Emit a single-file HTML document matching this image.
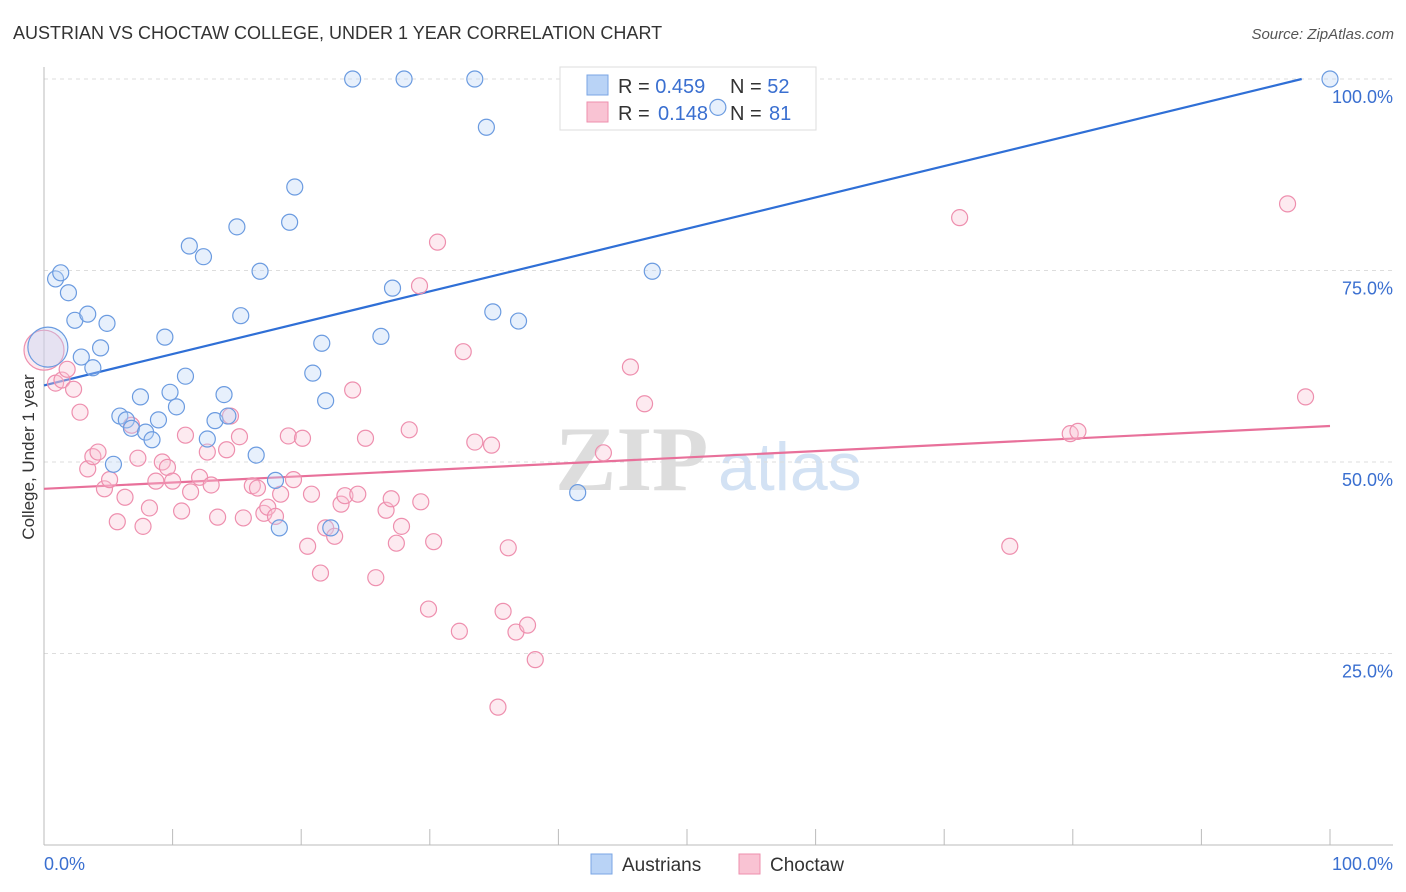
<!DOCTYPE html>
<html><head><meta charset="utf-8"><style>
body{margin:0;background:#fff;font-family:"Liberation Sans",sans-serif}
svg{display:block}
</style></head><body>
<svg id="chart" width="1406" height="892" xmlns="http://www.w3.org/2000/svg" font-family="Liberation Sans, sans-serif">
<text x="13" y="39" font-size="18" fill="#333">AUSTRIAN VS CHOCTAW COLLEGE, UNDER 1 YEAR CORRELATION CHART</text>
<text x="1394" y="39" font-size="15" fill="#555" font-style="italic" text-anchor="end">Source: ZipAtlas.com</text>
<text transform="translate(34,457) rotate(-90)" font-size="17" fill="#333" text-anchor="middle">College, Under 1 year</text>
<g>
<text x="555" y="490" font-size="92" fill="#ddd" font-family="Liberation Serif, serif" font-weight="bold">ZIP</text>
<text x="718" y="490" font-size="68" fill="#d3e2f4">atlas</text>
</g>
<g id="grid"></g><g id="axes"></g>
<g>
<rect x="560" y="67" width="256" height="63" fill="#fff" stroke="#ddd"/>
<rect x="587" y="75" width="21" height="20" fill="#b9d3f6" stroke="#7aa6e4"/>
<rect x="587" y="102" width="21" height="20" fill="#f9c3d3" stroke="#ee8fae"/>
<text x="618" y="93" font-size="20" fill="#333">R = <tspan fill="#3a6fd0">0.459</tspan><tspan x="730">N = </tspan><tspan fill="#3a6fd0">52</tspan></text>
<text x="618" y="120" font-size="20" fill="#333">R = <tspan x="658" fill="#3a6fd0">0.148</tspan><tspan x="730">N = </tspan><tspan x="769" fill="#3a6fd0">81</tspan></text>
</g>
<g id="lines"></g><g id="pts"></g>
<g>
<rect x="591" y="854" width="21" height="20" fill="#b9d3f6" stroke="#7aa6e4"/>
<text x="622" y="871" font-size="19" fill="#333">Austrians</text>
<rect x="739" y="854" width="21" height="20" fill="#f9c3d3" stroke="#ee8fae"/>
<text x="770" y="871" font-size="19" fill="#333">Choctaw</text>
</g>
</svg>
<script>
const blueX=[0.3,0.9,1.3,1.9,2.4,3.4,2.9,3.8,4.4,4.9,5.4,5.9,6.4,6.8,7.5,7.9,8.4,8.9,9.4,9.8,10.3,11.0,11.3,12.4,12.7,13.3,14.0,14.3,15.0,15.3,16.5,16.8,18.0,18.3,19.1,19.5,20.9,21.6,21.9,22.3,24.0,26.2,27.1,28.0,33.5,34.4,34.9,36.9,41.5,47.3,52.4,100];
const blueY=[65.0,73.9,74.7,72.1,68.5,69.3,63.7,62.3,64.9,68.1,49.7,56.0,55.5,54.4,58.5,53.9,52.9,55.5,66.3,59.1,57.2,61.2,78.2,76.8,53.0,55.4,58.8,56.0,80.7,69.1,50.9,74.9,47.6,41.4,81.3,85.9,61.6,65.5,58.0,41.4,100,66.4,72.7,100,100,93.7,69.6,68.4,46.0,74.9,96.3,100];
const pinkX=[0,0.9,1.4,1.8,2.3,2.8,3.4,3.8,4.2,4.7,5.1,5.7,6.3,6.8,7.3,7.7,8.2,8.7,9.2,9.6,10.0,10.7,11.0,11.4,12.1,12.7,13.0,13.5,14.2,14.5,15.2,15.5,16.2,16.6,17.1,17.4,18.0,18.4,19.0,19.4,20.1,20.5,20.8,21.5,21.9,22.6,23.1,23.4,24.0,24.4,25.0,25.8,26.6,27.0,27.4,27.8,28.4,29.2,29.3,29.9,30.3,30.6,32.3,32.6,33.5,34.8,35.3,35.7,36.1,36.7,37.6,38.2,43.5,45.6,46.7,71.2,75.1,79.8,80.4,96.7,98.1];
const pinkY=[64.6,60.3,60.7,62.1,59.5,56.5,49.1,50.7,51.3,46.5,47.7,42.2,45.4,54.8,50.5,41.6,44.0,47.5,50.0,49.3,47.5,43.6,53.5,46.1,48.0,51.3,47.0,42.8,51.6,56.0,53.3,42.7,46.9,46.6,43.3,44.1,42.9,45.8,53.4,47.7,53.1,39.0,45.8,35.5,41.4,40.3,44.5,45.6,59.4,45.8,53.1,34.9,43.7,45.2,39.4,41.6,54.2,73.0,44.8,30.8,39.6,78.7,27.9,64.4,52.6,52.2,18.0,30.5,38.8,27.8,28.7,24.2,51.2,62.4,57.6,81.9,39.0,53.7,54.0,83.7,58.5];
const yTicks=[25,50,75,100];
const blueTrend=[60.0,100.9];
const pinkTrend=[46.5,54.7];
const NS="http://www.w3.org/2000/svg";
const sx=v=>44+v*12.86, sy=v=>845-v*7.66;
function mk(tag,attrs,parent){const e=document.createElementNS(NS,tag);for(const k in attrs)e.setAttribute(k,attrs[k]);document.getElementById(parent).appendChild(e);return e;}
yTicks.forEach(t=>{
 const l=mk('line',{x1:44,x2:1393,y1:sy(t),y2:sy(t),stroke:'#ddd','stroke-dasharray':'4,4'},'grid');
 
 
 const tx=mk('text',{x:1393,y:sy(t)+24,'font-size':18,fill:'#3a6fd0','text-anchor':'end'},'grid');
 tx.textContent=t.toFixed(1)+'%';
 
 
});
let a=mk('line',{x1:44,x2:44,y1:67,y2:845,stroke:'#bbb'},'axes');


a=mk('line',{x1:44,x2:1393,y1:845,y2:845,stroke:'#bbb'},'axes');


for(let i=0;i<=10;i++){const t=mk('line',{x1:sx(i*10),x2:sx(i*10),y1:829,y2:845,stroke:'#bbb'},'axes');
 
 }
[[44,'start','0.0%'],[1393,'end','100.0%']].forEach(d=>{const t=mk('text',{x:d[0],y:870,'font-size':18,fill:'#3a6fd0','text-anchor':d[1]},'axes');t.textContent=d[2];
 
 });
function pts(X,Y,fill,stroke,name){X.forEach((x,i)=>{const big=i===0&&x<0.5;const c=mk('circle',{cx:sx(x),cy:sy(Y[i]),r:big?20:8,fill:fill,'fill-opacity':0.35,stroke:stroke,'stroke-width':1.2},'pts');
 
 });}
pts(pinkX,pinkY,'#f9c3d3','#ee8fae','choctaw-point');
pts(blueX,blueY,'#b9d3f6','#6b9be0','austrian-point');
const bEnd=(100-blueTrend[0])/(blueTrend[1]-blueTrend[0])*100;
let ln=mk('line',{x1:sx(0),y1:sy(blueTrend[0]),x2:sx(bEnd),y2:sy(100),stroke:'#2f6fd6','stroke-width':2.2},'lines');


ln=mk('line',{x1:sx(0),y1:sy(pinkTrend[0]),x2:sx(100),y2:sy(pinkTrend[1]),stroke:'#e8709a','stroke-width':2.2},'lines');


</script>
</body></html>
